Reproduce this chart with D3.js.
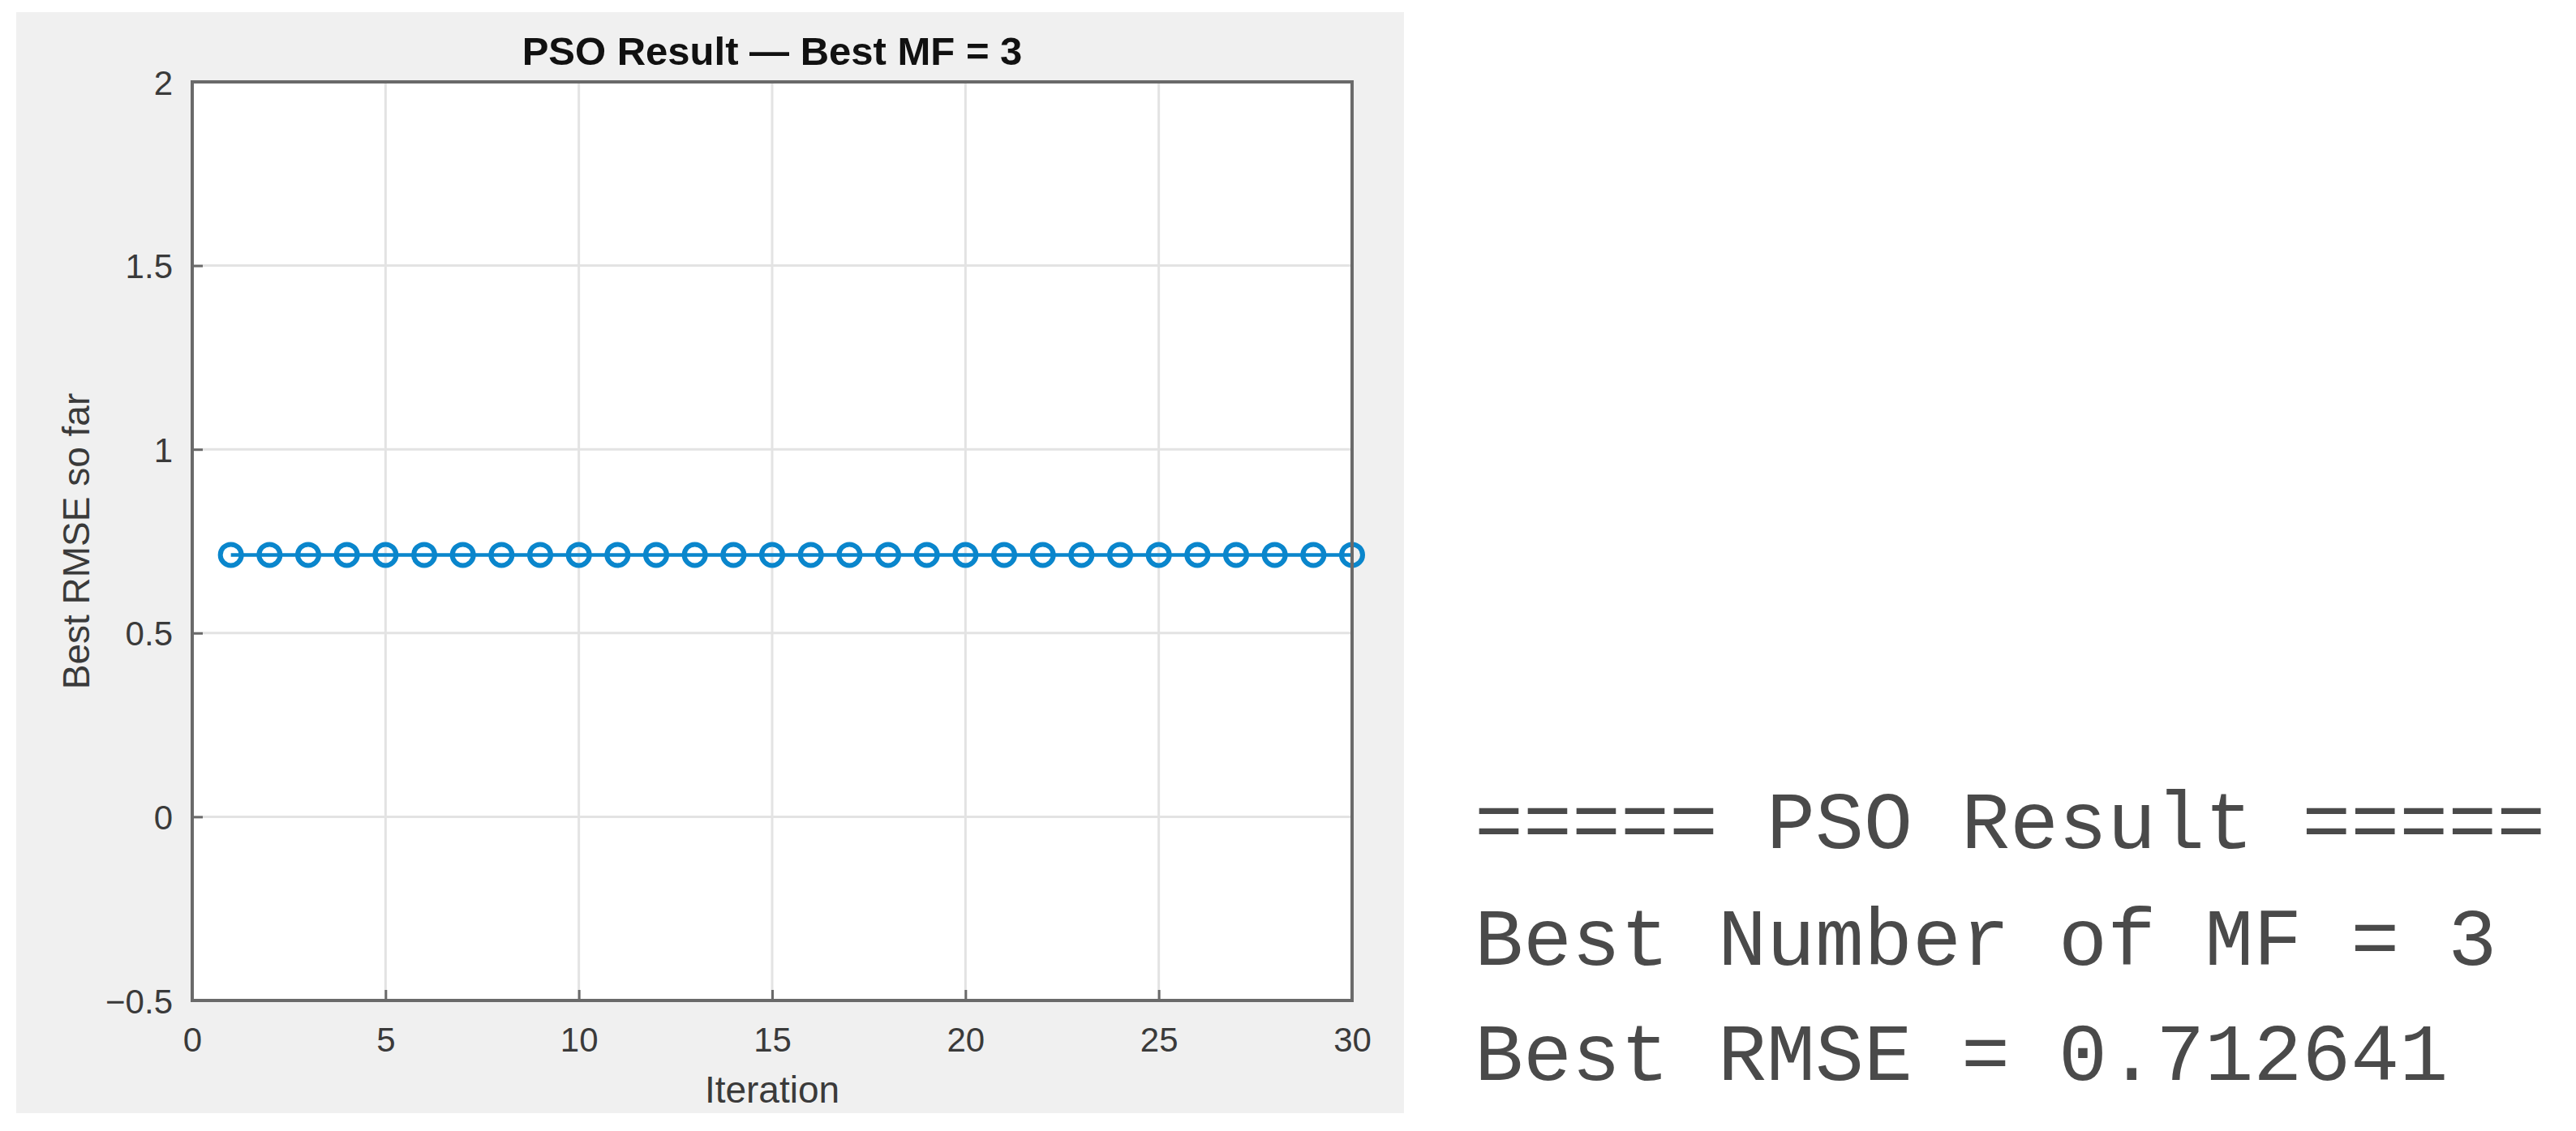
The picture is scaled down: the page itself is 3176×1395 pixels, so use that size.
<!DOCTYPE html>
<html>
<head>
<meta charset="utf-8">
<script src="https://cdn.jsdelivr.net/npm/d3@7"></script>
<style>
  html, body { margin: 0; padding: 0; background: #ffffff; }
  svg { display: block; }
</style>
</head>
<body>
<svg id="chart" width="3176" height="1395"></svg>
<script>
// ---- data ----
const iterations = d3.range(1, 31);            // 1..30
const bestRmse = [
  0.712641, 0.712641, 0.712641, 0.712641, 0.712641,
  0.712641, 0.712641, 0.712641, 0.712641, 0.712641,
  0.712641, 0.712641, 0.712641, 0.712641, 0.712641,
  0.712641, 0.712641, 0.712641, 0.712641, 0.712641,
  0.712641, 0.712641, 0.712641, 0.712641, 0.712641,
  0.712641, 0.712641, 0.712641, 0.712641, 0.712641
];
const xTicks = [0, 5, 10, 15, 20, 25, 30];
const yTicks = [-0.5, 0, 0.5, 1, 1.5, 2];
const titleText = "PSO Result \u2014 Best MF = 3";
const xLabel = "Iteration";
const yLabel = "Best RMSE so far";
const consoleLines = [
  "===== PSO Result =====",
  "Best Number of MF = 3",
  "Best RMSE = 0.712641"
];

// ---- layout ----
const svg = d3.select("#chart");
const fig = {x: 20, y: 15, w: 1711, h: 1358};
const plot = {left: 237, right: 1667, top: 101, bottom: 1234};

const x = d3.scaleLinear().domain([0, 30]).range([plot.left, plot.right]);
const y = d3.scaleLinear().domain([-0.5, 2]).range([plot.bottom, plot.top]);

const fontSans = "'Liberation Sans', Arial, Helvetica, sans-serif";
const axisColor = "#6a6a6a";
const textColor = "#3a3a3a";
const lineColor = "#0a86cc";

// figure background
svg.append("rect")
  .attr("x", fig.x).attr("y", fig.y).attr("width", fig.w).attr("height", fig.h)
  .attr("fill", "#f0f0f0");

// plot area
svg.append("rect")
  .attr("x", plot.left).attr("y", plot.top)
  .attr("width", plot.right - plot.left).attr("height", plot.bottom - plot.top)
  .attr("fill", "#ffffff");

// grid
const grid = svg.append("g").attr("stroke", "#e3e3e3").attr("stroke-width", 3);
grid.selectAll(".gx").data(xTicks.filter(d => d > 0 && d < 30)).join("line")
  .attr("x1", d => x(d)).attr("x2", d => x(d))
  .attr("y1", plot.top).attr("y2", plot.bottom);
grid.selectAll(".gy").data(yTicks.filter(d => d > -0.5 && d < 2)).join("line")
  .attr("y1", d => y(d)).attr("y2", d => y(d))
  .attr("x1", plot.left).attr("x2", plot.right);

// data line
const series = iterations.map((it, i) => ({it, v: bestRmse[i]}));
svg.append("path")
  .datum(series)
  .attr("fill", "none")
  .attr("stroke", lineColor)
  .attr("stroke-width", 4.5)
  .attr("d", d3.line().x(d => x(d.it)).y(d => y(d.v)));

svg.append("g").selectAll("circle").data(series).join("circle")
  .attr("cx", d => x(d.it)).attr("cy", d => y(d.v))
  .attr("r", 13)
  .attr("fill", "none")
  .attr("stroke", lineColor)
  .attr("stroke-width", 6);

// axes (inner ticks)
const axX = d3.axisBottom(x).tickValues(xTicks).tickSize(-13).tickPadding(0).tickFormat(d3.format("d"));
const gX = svg.append("g").attr("transform", `translate(0,${plot.bottom})`).call(axX);
const axY = d3.axisLeft(y).tickValues(yTicks).tickSize(-13).tickPadding(0)
  .tickFormat(d => (d < 0 ? "\u2212" : "") + d3.format("")(Math.abs(d)));
const gY = svg.append("g").attr("transform", `translate(${plot.left},0)`).call(axY);

[gX, gY].forEach(g => {
  g.select(".domain").remove();
  g.selectAll(".tick line").attr("stroke", axisColor).attr("stroke-width", 3);
  g.selectAll(".tick text").attr("fill", textColor)
    .attr("font-family", fontSans).attr("font-size", 42);
});
gX.selectAll(".tick text").attr("y", 63).attr("dy", 0);
gY.selectAll(".tick text").attr("x", -24).attr("dy", "0.36em");

// box outline
svg.append("rect")
  .attr("x", plot.left).attr("y", plot.top)
  .attr("width", plot.right - plot.left).attr("height", plot.bottom - plot.top)
  .attr("fill", "none").attr("stroke", axisColor).attr("stroke-width", 4);

// title
svg.append("text")
  .attr("x", (plot.left + plot.right) / 2).attr("y", 80)
  .attr("text-anchor", "middle")
  .attr("font-family", fontSans).attr("font-weight", "bold").attr("font-size", 49)
  .attr("fill", "#111111")
  .text(titleText);

// x label
svg.append("text")
  .attr("x", (plot.left + plot.right) / 2).attr("y", 1360)
  .attr("text-anchor", "middle")
  .attr("font-family", fontSans).attr("font-size", 46)
  .attr("fill", textColor)
  .text(xLabel);

// y label
svg.append("text")
  .attr("transform", `translate(110,${(plot.top + plot.bottom) / 2}) rotate(-90)`)
  .attr("text-anchor", "middle")
  .attr("font-family", fontSans).attr("font-size", 46)
  .attr("fill", textColor)
  .text(yLabel);

// console output text
const consoleBaselines = [1046, 1190, 1332];
svg.append("g").selectAll("text").data(consoleLines).join("text")
  .attr("x", 1818)
  .attr("y", (d, i) => consoleBaselines[i])
  .attr("font-family", "'Liberation Mono', 'Courier New', monospace")
  .attr("font-size", 100)
  .attr("fill", "#4a4a4a")
  .attr("xml:space", "preserve")
  .style("white-space", "pre")
  .text(d => d);
</script>
</body>
</html>
